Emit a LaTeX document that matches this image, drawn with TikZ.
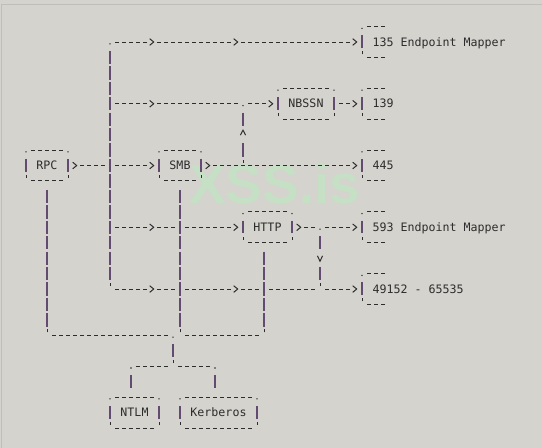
\documentclass[tikz,border=0pt]{standalone}
\usepackage{fontspec}
\newfontfamily\monof{DejaVu Sans Mono}
\newfontfamily\wmfamily{Liberation Sans}
\definecolor{bgc}{RGB}{213,211,206}
\definecolor{ink}{RGB}{45,45,45}
\definecolor{pipec}{RGB}{98,74,112}
\definecolor{wmc}{RGB}{197,224,197}
\definecolor{edgec}{RGB}{192,190,186}
\tikzset{
  hd/.style={draw=ink, line width=1pt, dash pattern=on 4pt off 3pt},
  vp/.style={draw=pipec, line width=1.1pt, dash pattern=on 13.3pt off 2.14pt},
  vpm/.style={draw=pipec, line width=1.1pt, dash pattern=on 13.3pt off 17.58pt},
  glyph/.style={draw=ink, line width=1pt},
  vglyph/.style={draw=pipec, line width=1.1pt},
  boxn/.style={shape=rectangle, inner sep=0pt, outer sep=0pt, minimum height=30.88pt,
    text height=7.5pt, text depth=0pt, text=ink,
    font=\monof\fontsize{11.63pt}{14pt}\selectfont},
  portn/.style={boxn, anchor=west, inner xsep=10.5pt, text height=8pt},
}
\newcommand\abxframe[1]{%
  \draw[hd] ([xshift=5pt]#1.north west) -- ([xshift=-5pt]#1.north east);
  \draw[hd] ([xshift=5pt]#1.south west) -- ([xshift=-5pt]#1.south east);
  \draw[vglyph] ([yshift=6.6pt]#1.west) -- ([yshift=-6.2pt]#1.west);
  \draw[vglyph] ([yshift=6.6pt]#1.east) -- ([yshift=-6.2pt]#1.east);
  \fill[ink] ([yshift=-1.8pt]#1.north west) circle (0.8pt);
  \fill[ink] ([yshift=-1.8pt]#1.north east) circle (0.8pt);
  \draw[glyph] ([yshift=3pt]#1.south west) -- ([yshift=6pt]#1.south west);
  \draw[glyph] ([yshift=3pt]#1.south east) -- ([yshift=6pt]#1.south east);
}
\newcommand\aptframe[1]{%
  \draw[hd] ([xshift=5pt]#1.north west) -- ([xshift=23pt]#1.north west);
  \draw[hd] ([xshift=5pt]#1.south west) -- ([xshift=23pt]#1.south west);
  \draw[vglyph] ([yshift=6.6pt]#1.west) -- ([yshift=-6.2pt]#1.west);
  \fill[ink] ([yshift=-1.8pt]#1.north west) circle (0.8pt);
  \draw[glyph] ([yshift=3pt]#1.south west) -- ([yshift=6pt]#1.south west);
}
\newcommand\chv[2]{\draw[glyph,shift={(#1,#2)}] (-2.3pt,3.3pt) -- (1.7pt,0pt) -- (-2.3pt,-3.3pt);}
\newcommand\upm[2]{\draw[glyph,shift={(#1,#2)}] (-2.6pt,-0.5pt) -- (0pt,4.5pt) -- (2.6pt,-0.5pt);}
\newcommand\dnm[2]{\draw[glyph,shift={(#1,#2)}] (-2.6pt,2.3pt) -- (0pt,-3pt) -- (2.6pt,2.3pt);}
\newcommand\kom[2]{\fill[bgc,shift={(#1,#2)}] (-2.6pt,-1.4pt) rectangle (2.6pt,1.4pt);}
\newcommand\dtm[2]{\fill[ink,shift={(#1,#2)}] (0pt,-1.8pt) circle (0.8pt);}
\newcommand\tkm[2]{\draw[glyph,shift={(#1,#2)}] (0pt,3pt) -- (0pt,6pt);}
\begin{document}
\begin{tikzpicture}
\fill[bgc] (0pt,0pt) rectangle (542pt,-448pt);
\useasboundingbox (0pt,0pt) rectangle (542pt,-448pt);
\draw[edgec, line width=1pt] (1.3pt,-448pt) -- (1.3pt,-4.3pt) -- (542pt,-4.3pt);
\node[anchor=base west, inner sep=0pt, text=wmc,
  font=\wmfamily\bfseries\fontsize{55pt}{60pt}\selectfont] (wm) at (189pt,-203.3pt) {XSS.is};
\begin{scope}[shift={(26pt,-11.12pt)}, x=7pt, y=-15.44pt]
% boxes
\node[boxn, minimum width=42pt] (RPC) at (3,10) {RPC};
\node[boxn, minimum width=42pt] (SMB) at (22,10) {SMB};
\node[boxn, minimum width=56pt] (NBSSN) at (40,6) {NBSSN};
\node[boxn, minimum width=49pt] (HTTP) at (34.5,14) {HTTP};
\node[boxn, minimum width=49pt] (NTLM) at (15.5,26) {NTLM};
\node[boxn, minimum width=77pt] (Kerb) at (27.5,26) {Kerberos};
% ports
\node[portn] (p135) at (48,2) {135 Endpoint Mapper};
\node[portn] (p139) at (48,6) {139};
\node[portn] (p445) at (48,10) {445};
\node[portn] (p593) at (48,14) {593 Endpoint Mapper};
\node[portn] (p49152) at (48,18) {49152 - 65535};
% junctions
\coordinate (bus2) at (12,2);
\coordinate (bus6) at (12,6);
\coordinate (bus14) at (12,14);
\coordinate (bus18) at (12,18);
\coordinate (n31a) at (31,6);
\coordinate (n31b) at (31,10);
\coordinate (h42a) at (42,14);
\coordinate (h42b) at (42,18);
\coordinate (b3) at (3,21);
\coordinate (b21) at (21,21);
\coordinate (b22) at (22,21);
\coordinate (b34) at (34,21);
\coordinate (s21) at (21,23);
\coordinate (s15) at (15,23);
\coordinate (s27) at (27,23);
% horizontal connectors
\draw[hd, shorten <=5pt, shorten >=12pt] (bus2) -- (p135.west);
\draw[hd, shorten <=5pt, shorten >=12pt] (bus6) -- (NBSSN.west);
\draw[hd, shorten <=5pt, shorten >=12pt] (NBSSN.east) -- (p139.west);
\draw[hd, shorten <=12pt, shorten >=12pt] (RPC.east) -- (SMB.west);
\draw[hd, shorten <=12pt, shorten >=12pt] (SMB.east) -- (p445.west);
\draw[hd, shorten <=5pt, shorten >=12pt] (bus14) -- (HTTP.west);
\draw[hd, shorten <=12pt, shorten >=12pt] (HTTP.east) -- (p593.west);
\draw[hd, shorten <=5pt, shorten >=12pt] (bus18) -- (p49152.west);
\draw[hd, shorten <=5pt, shorten >=5pt] (b3) -- (b34);
\draw[hd, shorten <=5pt, shorten >=5pt] (s15) -- (s27);
% gaps where other characters stand
\kom{18}{2}\kom{30}{2}\kom{18}{6}\kom{31}{6}\kom{12}{10}
\kom{18}{14}\kom{22}{14}\kom{42}{14}
\kom{18}{18}\kom{22}{18}\kom{30}{18}\kom{34}{18}\kom{42}{18}
\kom{21}{21}\kom{22}{21}\kom{21}{23}
% vertical connectors
\draw[vp, shorten <=8.8pt, shorten >=8.8pt] (bus2) -- (bus18);
\draw[vpm, shorten <=8.8pt, shorten >=8.8pt] (n31a) -- (n31b);
\draw[vpm, shorten <=8.8pt, shorten >=8.8pt] (h42a) -- (h42b);
\draw[vp, shorten <=8.8pt, shorten >=8.8pt] (RPC.south) -- (b3);
\draw[vp, shorten <=8.8pt, shorten >=8.8pt] (SMB.south) -- (b22);
\draw[vp, shorten <=8.8pt, shorten >=8.8pt] (b34 |- HTTP.south) -- (b34);
\draw[vp, shorten <=8.8pt, shorten >=8.8pt] (b21) -- (s21);
\draw[vp, shorten <=8.8pt, shorten >=8.8pt] (s15) -- (s15 |- NTLM.north);
\draw[vp, shorten <=8.8pt, shorten >=8.8pt] (s27) -- (s27 |- Kerb.north);
% frames
\abxframe{RPC}\abxframe{SMB}\abxframe{NBSSN}\abxframe{HTTP}\abxframe{NTLM}\abxframe{Kerb}
\aptframe{p135}\aptframe{p139}\aptframe{p445}\aptframe{p593}\aptframe{p49152}
% arrow heads
\chv{18}{2}\chv{30}{2}\chv{47}{2}
\chv{18}{6}\chv{35}{6}\chv{47}{6}
\chv{7}{10}\chv{18}{10}\chv{26}{10}\chv{47}{10}
\chv{18}{14}\chv{30}{14}\chv{39}{14}\chv{47}{14}
\chv{18}{18}\chv{30}{18}\chv{47}{18}
\upm{31}{8}\dnm{42}{16}
% corner dots and ticks
\dtm{12}{2}\dtm{31}{6}\dtm{42}{14}\dtm{21}{21}\dtm{15}{23}\dtm{27}{23}
\tkm{12}{18}\tkm{31}{10}\tkm{42}{18}\tkm{3}{21}\tkm{22}{21}\tkm{34}{21}\tkm{21}{23}
\end{scope}
\end{tikzpicture}
\end{document}
